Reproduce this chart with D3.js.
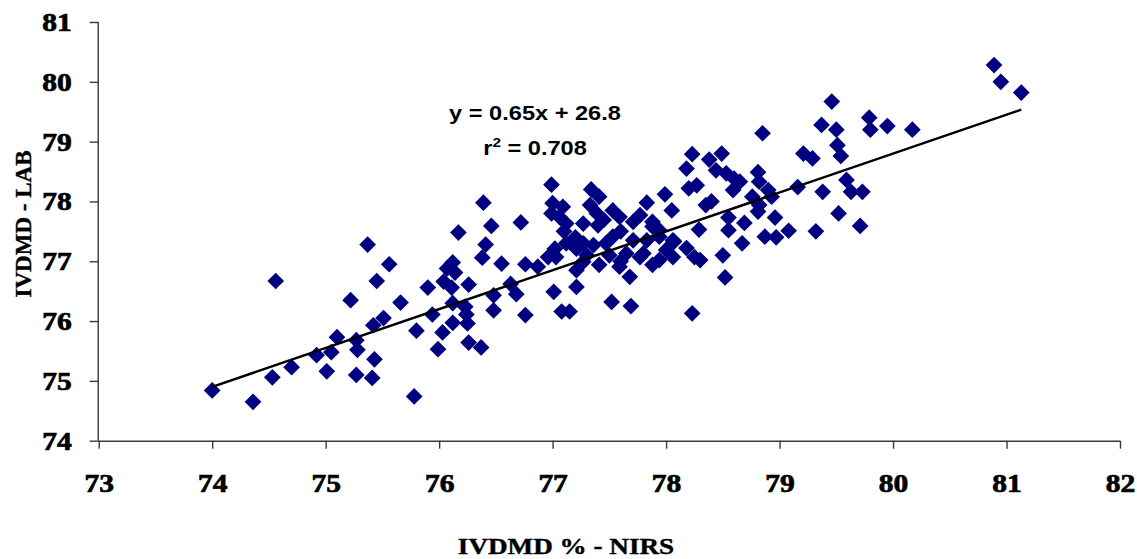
<!DOCTYPE html>
<html>
<head>
<meta charset="utf-8">
<script src="https://cdn.jsdelivr.net/npm/d3@7"></script>
<style>
  html, body { margin: 0; padding: 0; background: #fff; }
  svg { display: block; }
</style>
</head>
<body>
<svg id="chart" width="1137" height="559"></svg>
<script>
// IVDMD: NIRS prediction (x) vs laboratory reference (y)
const nirs = [
  74.00,74.36,74.53,74.56,74.70,74.92,75.01,75.05,75.10,75.22,75.27,75.28,75.27,75.37,75.41,75.42,75.43,75.45,75.51,75.56,
  75.66,75.78,75.80,75.90,75.94,75.99,76.03,76.04,76.07,76.12,76.14,76.12,76.11,76.17,76.23,76.24,76.25,76.26,76.26,76.37,
  76.39,76.41,76.38,76.46,76.48,76.48,76.55,76.63,76.68,76.72,76.76,76.76,76.87,76.12,
  76.99,77.00,77.09,76.99,77.06,77.12,77.27,77.34,77.41,77.33,77.39,77.45,77.53,77.59,77.83,77.99,78.05,77.77,77.71,77.88,
  77.94,77.53,77.47,77.36,77.27,77.02,77.03,76.96,77.12,77.21,77.27,77.21,77.41,77.65,77.59,77.68,77.77,77.88,77.94,78.06,
  78.06,78.00,77.71,77.83,77.01,77.21,77.08,77.15,77.52,77.69,77.88,77.94,78.07,78.18,78.25,78.30,77.80,78.35,78.40,
  77.10,77.20,77.40,77.60,77.30,77.50,77.60,
  78.85,79.37,79.50,79.51,79.54,79.21,79.29,78.23,78.49,78.18,78.38,78.44,78.53,78.60,78.65,78.81,78.82,78.20,78.27,78.59,
  78.76,78.90,78.93,78.82,78.81,79.16,79.38,79.59,79.63,79.73,79.52,79.71,79.32,79.08,78.96,78.97,78.87,78.69,78.55,78.55,
  78.67,78.50,78.52,78.23,78.29,79.46,79.79,79.80,79.95,80.17,80.89,80.95,81.13
];
const lab = [
  74.84,74.65,75.06,76.67,75.23,75.43,75.16,75.48,75.73,76.35,75.10,75.52,75.68,77.28,75.05,75.93,75.36,76.67,76.05,76.95,
  76.31,74.74,75.84,76.56,76.11,75.53,75.81,76.66,76.88,76.30,76.81,75.97,76.56,77.48,76.24,76.11,75.96,75.64,76.61,75.56,
  77.98,77.28,77.06,77.59,76.43,76.18,76.96,76.62,76.45,77.65,76.95,76.10,76.91,76.98,
  78.28,77.97,77.91,77.80,77.74,77.63,77.63,78.20,78.08,77.94,77.80,77.69,77.85,77.74,77.98,78.12,77.85,77.77,77.66,77.66,
  77.52,77.41,77.30,77.27,77.30,77.21,77.07,77.07,77.30,77.21,76.99,76.85,76.94,77.13,76.91,76.74,77.07,76.94,77.02,77.07,
  77.35,77.19,77.35,77.35,76.49,76.57,76.16,76.16,76.32,76.25,77.58,77.41,77.33,77.22,77.07,77.02,77.13,77.94,78.00,
  77.50,77.40,77.60,77.50,77.10,77.10,77.00,
  79.14,79.28,79.20,78.94,78.76,78.80,78.72,78.79,78.80,78.55,78.70,78.52,78.47,78.38,78.33,78.49,78.33,78.22,78.27,78.19,
  78.08,78.19,78.08,77.94,77.83,78.24,78.16,78.36,78.16,78.16,77.80,77.59,77.50,77.51,77.73,77.40,77.41,77.64,77.73,77.52,
  77.30,77.10,76.73,76.13,77.53,79.67,79.40,79.20,79.26,79.20,80.28,80.00,79.82
];

// axis ticks
const xTicks = [73, 74, 75, 76, 77, 78, 79, 80, 81, 82];
const yTicks = [74, 75, 76, 77, 78, 79, 80, 81];

// linear fit as reported on the chart
const fitSlope = 0.65;
const fitIntercept = 26.8;
const fitR2 = 0.708;

const svg = d3.select("#chart");

const plot = { left: 98.7, right: 1120, top: 22, bottom: 440.7 };
const stretch = 1.18;   // text is drawn slightly wide

const x = d3.scaleLinear().domain([73, 82]).range([plot.left, plot.right]);
const y = d3.scaleLinear().domain([74, 81]).range([plot.bottom, plot.top]);

const axisColor = "#3a3a3a";
const serif = "'Liberation Serif', 'Times New Roman', serif";
const sans = "'Liberation Sans', Arial, sans-serif";

// x axis
const xAxis = svg.append("g")
  .attr("transform", `translate(0,${plot.bottom})`)
  .call(d3.axisBottom(x).tickValues(xTicks).tickSize(8).tickFormat(d3.format("d")));
// y axis
const yAxis = svg.append("g")
  .attr("transform", `translate(${plot.left},0)`)
  .call(d3.axisLeft(y).tickValues(yTicks).tickSize(9).tickFormat(d3.format("d")));

[xAxis, yAxis].forEach(g => {
  g.select(".domain").attr("stroke", axisColor).attr("stroke-width", 1.4);
  g.selectAll(".tick line").attr("stroke", axisColor).attr("stroke-width", 1.4);
  g.selectAll(".tick text")
    .attr("fill", "#000")
    .attr("stroke", "#000")
    .attr("stroke-width", 0.7)
    .attr("font-family", serif)
    .attr("font-weight", 700)
    .attr("font-size", 25)
    .style("font-weight", 700);
});
xAxis.select(".domain").attr("d", `M${plot.left},0.5H${plot.right}`);
yAxis.select(".domain").attr("d", `M-0.5,${plot.top}V${plot.bottom}`);
xAxis.selectAll(".tick text")
  .attr("x", 0).attr("y", 0).attr("dy", null)
  .attr("transform", `translate(0,51) scale(${stretch},1)`);
yAxis.selectAll(".tick text")
  .attr("x", 0).attr("y", 0).attr("dy", "0.34em")
  .attr("transform", `translate(-27,0) scale(${stretch},1)`);

// data points (diamonds)
const diamond = d3.symbol().type(d3.symbolSquare).size(140);
svg.append("g")
  .selectAll("path")
  .data(nirs.map((v, i) => [v, lab[i]]))
  .join("path")
  .attr("d", diamond)
  .attr("transform", d => `translate(${x(d[0])},${y(d[1])}) rotate(45)`)
  .attr("fill", "#000080");

// fitted line over the range of the data
const xMin = d3.min(nirs), xMax = d3.max(nirs);
svg.append("line")
  .attr("x1", x(xMin)).attr("y1", y(fitSlope * xMin + fitIntercept))
  .attr("x2", x(xMax)).attr("y2", y(fitSlope * xMax + fitIntercept))
  .attr("stroke", "#000")
  .attr("stroke-width", 2.5);

// helper for horizontally widened labels
function label(px, py, family, size, anchor) {
  return svg.append("text")
    .attr("transform", `translate(${px},${py}) scale(${stretch},1)`)
    .attr("text-anchor", anchor || "middle")
    .attr("font-family", family)
    .attr("font-weight", 700)
    .attr("font-size", size)
    .attr("fill", "#000");
}

// fit equation
label(535, 120, sans, 20).text(`y = ${fitSlope}x + ${fitIntercept}`);
const r2 = label(535, 155, sans, 20);
r2.append("tspan").text("r");
r2.append("tspan").attr("dy", -8).attr("font-size", 13).text("2");
r2.append("tspan").attr("dy", 8).text(` = ${fitR2}`);

// axis titles
label(566, 554, serif, 23).attr("stroke", "#000").attr("stroke-width", 0.4).text("IVDMD % - NIRS");
svg.append("text")
  .attr("transform", "translate(30.5,224) rotate(-90)")
  .attr("text-anchor", "middle")
  .attr("font-family", serif)
  .attr("font-weight", 700)
  .attr("font-size", 23)
  .attr("stroke", "#000")
  .attr("stroke-width", 0.4)
  .text("IVDMD - LAB");
</script>
</body>
</html>
